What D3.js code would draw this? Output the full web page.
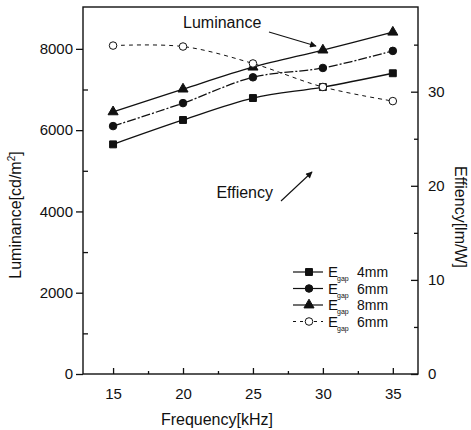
<!DOCTYPE html>
<html>
<head>
<meta charset="utf-8">
<script src="https://cdn.jsdelivr.net/npm/d3@7"></script>
<style>
  body { margin: 0; background: #fff; }
  svg text, svg tspan { font-family: "Liberation Sans", Arial, sans-serif; fill: #111; }
</style>
</head>
<body>
<div id="chart"></div>
<script>
// data
const freq = [15, 20, 25, 30, 35];
const lum4mm = [5650, 6250, 6790, 7060, 7400];
const lum6mm = [6100, 6665, 7300, 7530, 7950];
const lum8mm = [6450, 7010, 7550, 7970, 8410];
const eff6mm = [34.9, 34.8, 33.0, 30.5, 29.0];

const xTicks = [15, 20, 25, 30, 35];
const yLeftTicks = [0, 2000, 4000, 6000, 8000];
const yRightTicks = [0, 10, 20, 30];
const legendLabels = ["4mm", "6mm", "8mm", "6mm"];

const W = 471, H = 430;
const margin = { top: 7, right: 53, bottom: 56, left: 83 };
const width = W - margin.left - margin.right;
const height = H - margin.top - margin.bottom;

const svg = d3.select('#chart').append('svg')
    .attr('width', W).attr('height', H);
const g = svg.append('g')
    .attr('transform', 'translate(' + margin.left + ',' + margin.top + ')');

const x = d3.scaleLinear().domain([12.85, 36.8]).range([0, width]);
const yL = d3.scaleLinear().domain([0, 9030]).range([height, 0]);
const yR = d3.scaleLinear().domain([0, 39]).range([height, 0]);

const ink = '#111';

// frame
g.append('rect').attr('x', 0).attr('y', 0).attr('width', width).attr('height', height)
    .attr('fill', 'none').attr('stroke', ink).attr('stroke-width', 1.4);

// bottom axis: ticks point up
g.append('g').attr('transform', 'translate(0,' + height + ')')
    .call(d3.axisBottom(x).tickValues(xTicks).tickSize(-6).tickPadding(14));
g.append('g').attr('transform', 'translate(0,' + height + ')')
    .call(d3.axisBottom(x).tickValues([17.5, 22.5, 27.5, 32.5]).tickSize(-3).tickFormat(''));

// left axis: major ticks out, minor in
g.append('g')
    .call(d3.axisLeft(yL).tickValues(yLeftTicks).tickSize(7).tickPadding(3).tickFormat(d3.format('d')));
g.append('g')
    .call(d3.axisLeft(yL).tickValues([1000, 3000, 5000, 7000]).tickSize(-5).tickFormat(''));

// right axis: ticks in
g.append('g').attr('transform', 'translate(' + width + ',0)')
    .call(d3.axisRight(yR).tickValues(yRightTicks).tickSize(-7).tickPadding(10));
g.append('g').attr('transform', 'translate(' + width + ',0)')
    .call(d3.axisRight(yR).tickValues([5, 15, 25, 35]).tickSize(-4).tickFormat(''));

g.selectAll('.domain').remove();
g.selectAll('.tick line').attr('stroke', ink).attr('stroke-width', 1.3);
g.selectAll('.tick text').style('font-size', '15px').attr('fill', ink);

// axis titles
svg.append('text')
    .attr('x', margin.left + x(25) - 36).attr('y', 425)
    .attr('text-anchor', 'middle').style('font-size', '16px')
    .text('Frequency[kHz]');

const lt = svg.append('text')
    .attr('transform', 'translate(21,215) rotate(-90)')
    .attr('text-anchor', 'middle').style('font-size', '16px');
lt.append('tspan').text('Luminance[cd/m');
lt.append('tspan').attr('dy', -6).style('font-size', '10px').text('2');
lt.append('tspan').attr('dy', 6).text(']');

svg.append('text')
    .attr('transform', 'translate(455,217) rotate(90)')
    .attr('text-anchor', 'middle').style('font-size', '16px')
    .text('Effiency[lm/W]');

// series
const series = [
    { vals: lum4mm, y: yL, sym: d3.symbolSquare, size: 48, fill: ink, dash: null },
    { vals: lum6mm, y: yL, sym: d3.symbolCircle, size: 45, fill: ink, dash: '9,2,2,2' },
    { vals: lum8mm, y: yL, sym: d3.symbolTriangle, size: 44, fill: ink, dash: null },
    { vals: eff6mm, y: yR, sym: d3.symbolCircle, size: 45, fill: '#fff', dash: '4,4' }
];

series.forEach(function(s) {
    const line = d3.line()
        .x(function(d, i) { return x(freq[i]); })
        .y(function(d) { return s.y(d); })
        .curve(d3.curveCatmullRom);
    g.append('path').datum(s.vals)
        .attr('d', line)
        .attr('fill', 'none')
        .attr('stroke', ink)
        .attr('stroke-width', s.fill === ink ? 1.3 : 1)
        .attr('stroke-dasharray', s.dash);
    g.selectAll(null).data(s.vals).enter().append('path')
        .attr('d', d3.symbol().type(s.sym).size(s.size))
        .attr('transform', function(d, i) { return 'translate(' + x(freq[i]) + ',' + s.y(d) + ')'; })
        .attr('fill', s.fill)
        .attr('stroke', ink)
        .attr('stroke-width', 1);
});

// annotations
svg.append('defs').append('marker')
    .attr('id', 'arr').attr('viewBox', '0 0 10 10')
    .attr('refX', 9).attr('refY', 5)
    .attr('markerWidth', 7).attr('markerHeight', 6)
    .attr('orient', 'auto')
    .append('path').attr('d', 'M0,0 L10,5 L0,10 Z').attr('fill', ink);

svg.append('text').attr('x', 183).attr('y', 28).style('font-size', '16px').text('Luminance');
svg.append('line')
    .attr('x1', 269).attr('y1', 32).attr('x2', 316).attr('y2', 46)
    .attr('stroke', ink).attr('stroke-width', 1.1).attr('marker-end', 'url(#arr)');

svg.append('text').attr('x', 273).attr('y', 198).attr('text-anchor', 'end')
    .style('font-size', '16px').text('Effiency');
svg.append('line')
    .attr('x1', 281).attr('y1', 201).attr('x2', 312).attr('y2', 172)
    .attr('stroke', ink).attr('stroke-width', 1.1).attr('marker-end', 'url(#arr)');

// legend
const legend = svg.append('g');
series.forEach(function(s, i) {
    const ly = 272 + i * 16.5;
    legend.append('line')
        .attr('x1', 293).attr('x2', 323).attr('y1', ly).attr('y2', ly)
        .attr('stroke', ink).attr('stroke-width', s.fill === ink ? 1.2 : 1)
        .attr('stroke-dasharray', s.fill === ink ? null : '3,4');
    legend.append('path')
        .attr('d', d3.symbol().type(s.sym).size(s.size))
        .attr('transform', 'translate(309,' + ly + ')')
        .attr('fill', s.fill).attr('stroke', ink);
    const t = legend.append('text').attr('x', 328).attr('y', ly + 5).attr('fill', ink);
    t.append('tspan').attr('fill', ink).style('font-size', '15px').text('E');
    t.append('tspan').attr('fill', ink).attr('dy', 4).attr('dx', -1).style('font-size', '7px').text('gap');
    t.append('tspan').attr('fill', ink).attr('dy', -4).attr('x', 357).style('font-size', '14px').text(legendLabels[i]);
});
</script>
</body>
</html>
